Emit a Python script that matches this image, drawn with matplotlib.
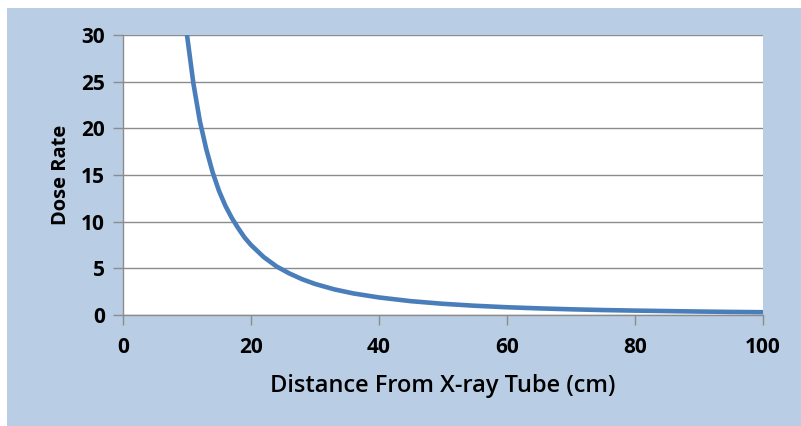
import matplotlib
matplotlib.use("Agg")
import matplotlib.pyplot as plt
from matplotlib.patches import Rectangle
import numpy as np

# Data
distance = [10, 11, 12, 13, 14, 15, 16, 17, 18, 19, 20, 22, 24, 26, 28, 30, 33, 36, 40,
            45, 50, 55, 60, 65, 70, 75, 80, 85, 90, 95, 100]
dose_rate = [30.0, 24.8, 20.8, 17.8, 15.3, 13.3, 11.7, 10.4, 9.3, 8.3, 7.5, 6.2, 5.2, 4.45,
             3.83, 3.33, 2.75, 2.31, 1.88, 1.48, 1.2, 0.99, 0.83, 0.71, 0.61, 0.53, 0.47,
             0.42, 0.37, 0.33, 0.30]
x_ticks = [0, 20, 40, 60, 80, 100]
y_ticks = [0, 5, 10, 15, 20, 25, 30]

W, H = 801, 426
fig = plt.figure(figsize=(W / 100, H / 100), dpi=100)
fig.patch.set_facecolor("white")
fig.patches.append(Rectangle((7 / W, 0), 1 - 7 / W, (H - 8) / H,
                             transform=fig.transFigure, facecolor="#B9CDE5",
                             edgecolor="none", zorder=-10))

ax = fig.add_axes([123 / W, (H - 315) / H, (763 - 123) / W, (315 - 35) / H])
ax.set_zorder(1)
ax.set_facecolor("white")
ax.plot(distance, dose_rate, color="#4A7EBB", linewidth=3.3, solid_capstyle="butt", zorder=3)

ax.set_xlim(0, 100)
ax.set_ylim(0, 30)
ax.set_xticks(x_ticks)
ax.set_yticks(y_ticks)
ax.grid(axis="y", color="#8C8C8C", linewidth=1.0)
ax.set_axisbelow(True)
ax.spines["right"].set_visible(False)
ax.spines["top"].set_visible(False)
for s in ["left", "bottom"]:
    ax.spines[s].set_color("#8C8C8C")
    ax.spines[s].set_linewidth(1.0)

font = "Open Sans"
ax.tick_params(axis="both", direction="out", length=7, width=1.0, color="#8C8C8C",
               labelsize=15, labelcolor="black")
ax.tick_params(axis="x", pad=9)
ax.tick_params(axis="y", pad=6)
for lbl in ax.get_xticklabels() + ax.get_yticklabels():
    lbl.set_fontfamily(font)
    lbl.set_fontweight("bold")

ax.set_xlabel("Distance From X-ray Tube (cm)", fontsize=17, fontfamily=font,
              fontweight="semibold", labelpad=11)
ax.set_ylabel("Dose Rate", fontsize=14.5, fontfamily=font, fontweight="bold", labelpad=7)

fig.savefig("out.png", dpi=100, facecolor=fig.get_facecolor())
